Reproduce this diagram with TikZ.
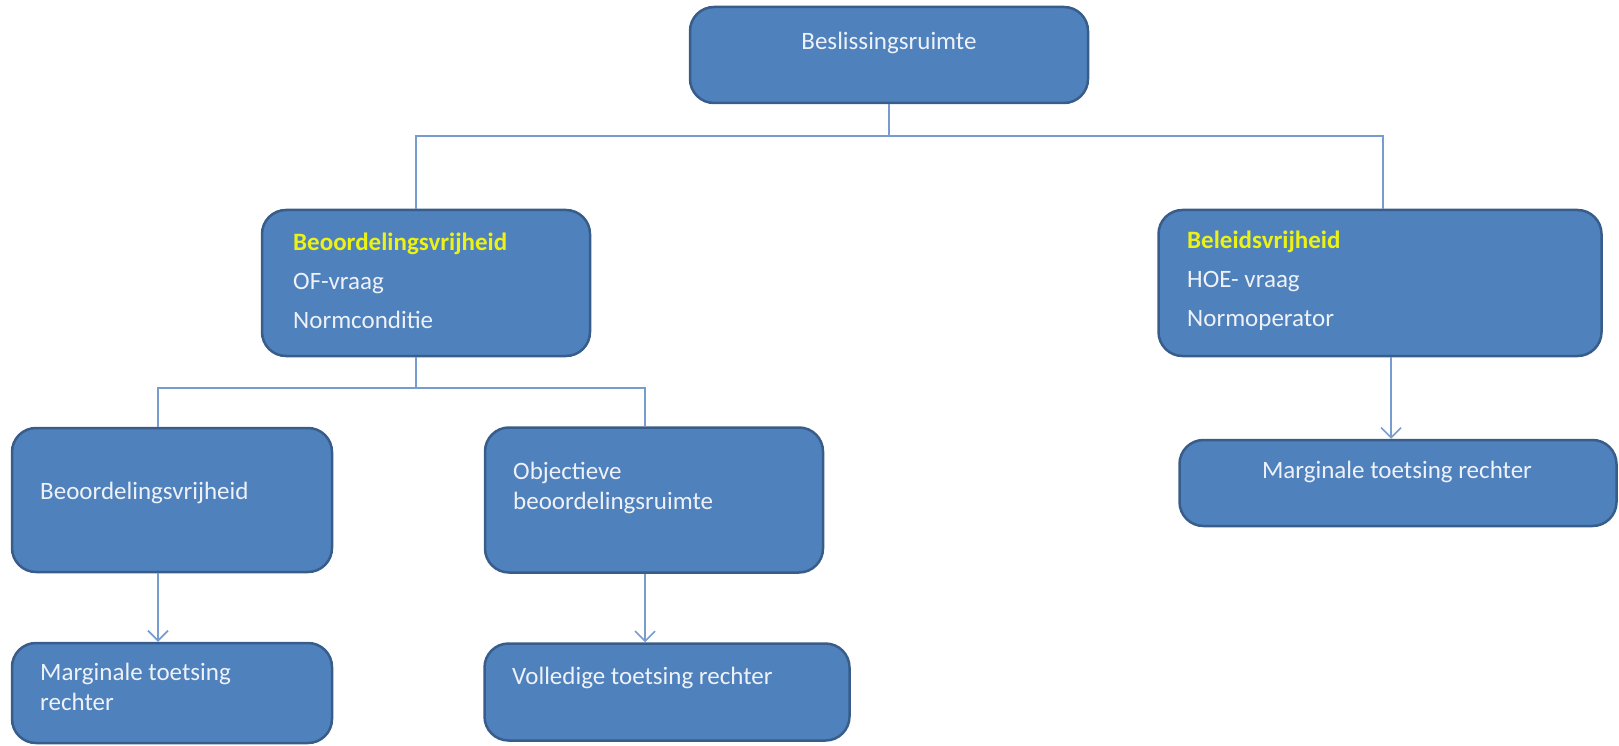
\documentclass[tikz,border=0pt]{standalone}
\usepackage{fontspec}
\setmainfont{Carlito}
\usepackage{tikz}
\usetikzlibrary{arrows.meta,positioning,calc}

\definecolor{boxblue}{RGB}{79,129,189}
\definecolor{boxedge}{RGB}{56,93,138}
\definecolor{linkblue}{RGB}{118,156,208}
\definecolor{txtwhite}{RGB}{238,242,248}
\definecolor{hlyellow}{RGB}{236,242,20}

\begin{document}
\begin{tikzpicture}[x=1pt,y=-1pt,
	box/.style={draw=boxedge, line width=2.5pt, fill=boxblue, rounded corners=24pt, inner sep=0pt},
	txt/.style={text=txtwhite, font=\fontsize{25}{39}\selectfont, align=left, inner sep=0pt},
	link/.style={draw=linkblue, line width=1.6pt},
	arr/.style={link, -{Straight Barb[length=10pt,width=20pt,line width=1.6pt]}}]
	
	\useasboundingbox (0,0) rectangle (1619,746);
	
	% Boxes
	\foreach \n/\x/\y/\w/\h in {top/889/55/398/96, beoord/426/283/328/146, beleid/1380/283/443/146,
		vrijh/172/500/320/144, objec/654/500/338/145, margL/172/693/320/100,
		volle/667/692/365/97, margR/1398/483/437/86}
		\node[box, minimum width=\w*1pt, minimum height=\h*1pt] (\n) at (\x,\y) {};
	
	% Connectors
	\draw[link] (top.south) -- ++(0,32) -| ([xshift=-10pt]beoord.north);
	\draw[link] (top.south) -- ++(0,32) -| ([xshift=3pt]beleid.north);
	\draw[link] ([xshift=-10pt]beoord.south) -- ++(0,31) -| ([xshift=-14pt]vrijh.north);
	\draw[link] ([xshift=-10pt]beoord.south) -- ++(0,31) -| ([xshift=-9pt]objec.north);
	\draw[arr] ([xshift=-14pt]vrijh.south) -- ([xshift=-14pt]margL.north);
	\draw[arr] ([xshift=-9pt]objec.south) -- ([xshift=-9pt]objec.south |- volle.north);
	\draw[arr] ([xshift=11pt]beleid.south) -- ([xshift=11pt]beleid.south |- margR.north);
	
	% Labels
	\node[txt] (topT) at (889,43) {Beslissingsruimte};
	\node[txt, anchor=west] (beoordT) at (293,281) {\textbf{\color{hlyellow}Beoordelingsvrijheid}\\OF-vraag\\Normconditie};
	\node[txt, anchor=west] (beleidT) at (1187,281) {\textbf{\color{hlyellow}Beleidsvrijheid}\\HOE- vraag\\Normoperator};
	\node[txt, anchor=west] (vrijhT) at (40,493) {Beoordelingsvrijheid};
	\node[txt, anchor=west, font=\fontsize{25}{30}\selectfont] (objecT) at (513,488) {Objectieve\\beoordelingsruimte};
	\node[txt, anchor=west, font=\fontsize{25}{30}\selectfont] (margLT) at (40,687) {Marginale toetsing\\rechter};
	\node[txt, anchor=west] (volleT) at (512,678) {Volledige toetsing rechter};
	\node[txt] (margRT) at (1397,472) {Marginale toetsing rechter};
\end{tikzpicture}
\end{document}
